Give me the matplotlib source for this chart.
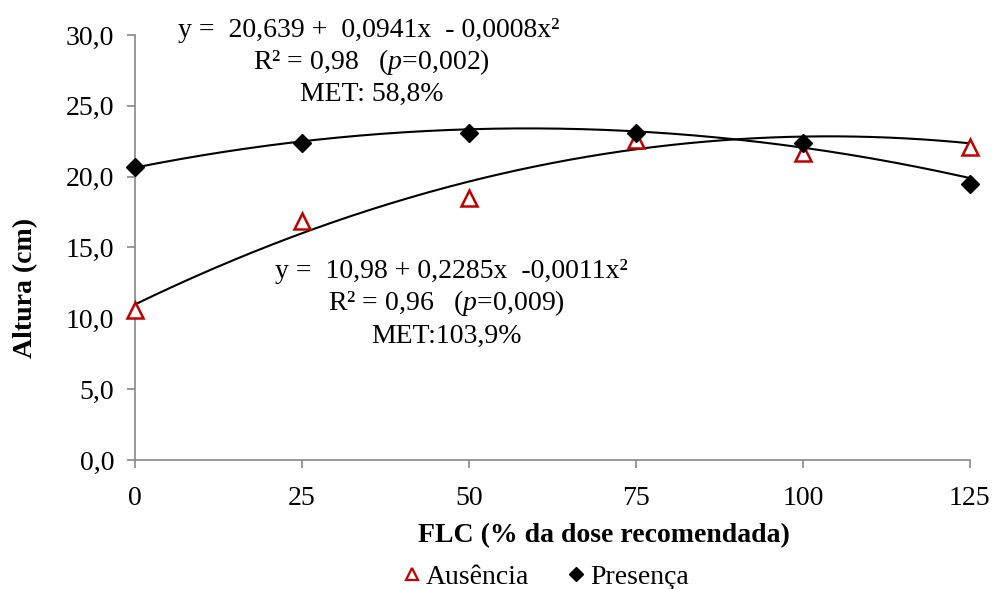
import numpy as np
import matplotlib
matplotlib.use("Agg")
import matplotlib.pyplot as plt
from matplotlib.lines import Line2D

plt.rcParams["font.family"] = ["Liberation Serif", "DejaVu Serif"]
plt.rcParams["mathtext.fontset"] = "custom"
plt.rcParams["mathtext.rm"] = "Liberation Serif"
plt.rcParams["mathtext.it"] = "Liberation Serif:italic"

# FLC doses (% of recommended dose)
doses = [0, 25, 50, 75, 100, 125]
ausencia = [10.6, 16.9, 18.5, 22.6, 21.7, 22.1]
presenca = [20.7, 22.4, 23.1, 23.1, 22.4, 19.5]

# quadratic fit coefficients (a, b, c) for y = a + b*x + c*x^2
coef_ausencia = (10.98, 0.2285, -0.0011)
coef_presenca = (20.639, 0.0941, -0.0008)

yticks = [0, 5, 10, 15, 20, 25, 30]
xticks = [0, 25, 50, 75, 100, 125]

fig = plt.figure(figsize=(9.95, 5.89), dpi=100)
ax = fig.add_axes([0.1357, 0.219, 0.839, 0.7216])

xs = np.linspace(0, 125, 300)
for a, b, c in (coef_presenca, coef_ausencia):
    ax.plot(xs, a + b * xs + c * xs ** 2, color="black", lw=1.5, zorder=2)

ax.plot(doses, ausencia, ls="none", marker="^", ms=11, mfc="white",
        mec="#C00000", mew=1.8, zorder=3, clip_on=False)
ax.plot(doses, presenca, ls="none", marker="D", ms=9, color="black", zorder=4,
        clip_on=False)

ax.set_xlim(0, 125)
ax.set_ylim(0, 30)
ax.set_xticks(xticks)
ax.set_xticklabels([str(t) for t in xticks])
ax.set_yticks(yticks)
ax.set_yticklabels([f"{t:.1f}".replace(".", ",") for t in yticks])

for s in ("top", "right"):
    ax.spines[s].set_visible(False)
for s in ("left", "bottom"):
    ax.spines[s].set_color("#888888")
    ax.spines[s].set_linewidth(1.2)
ax.tick_params(axis="both", direction="out", length=6, width=1.2,
               color="#888888", labelsize=20, labelcolor="black")
ax.tick_params(axis="y", pad=9)
ax.tick_params(axis="x", pad=13)

ax.set_xlabel("FLC (% da dose recomendada)", fontsize=20, fontweight="bold")
ax.xaxis.set_label_coords(0.5617, -0.148)
ax.set_ylabel("Altura (cm)", fontsize=20, fontweight="bold")
ax.yaxis.set_label_coords(-0.116, 0.405)

fs = 20
ax.text(6.4, 30.35, "y =  20,639 +  0,0941x  - 0,0008x²", fontsize=fs, ha="left", va="center")
ax.text(35.4, 28.1, "R² = 0,98   ($p$=0,002)", fontsize=fs, ha="center", va="center")
ax.text(35.4, 25.8, "MET: 58,8%", fontsize=fs, ha="center", va="center")

ax.text(47.3, 13.3, "y =  10,98 + 0,2285x  -0,0011x²", fontsize=fs, ha="center", va="center")
ax.text(46.6, 11.1, "R² = 0,96   ($p$=0,009)", fontsize=fs, ha="center", va="center")
ax.text(46.6, 8.7, "MET:103,9%", fontsize=fs, ha="center", va="center")

handles = [
    Line2D([], [], ls="none", marker="^", ms=9, mfc="white", mec="#C00000", mew=1.6),
    Line2D([], [], ls="none", marker="D", ms=7, color="black"),
]
fig.legend(handles, ["Ausência", "Presença"], loc="center", bbox_to_anchor=(0.546, 0.02),
           ncol=2, frameon=False, fontsize=20, handletextpad=0.0, columnspacing=1.2,
           handlelength=1.0)

fig.savefig("out.png", dpi=100)
